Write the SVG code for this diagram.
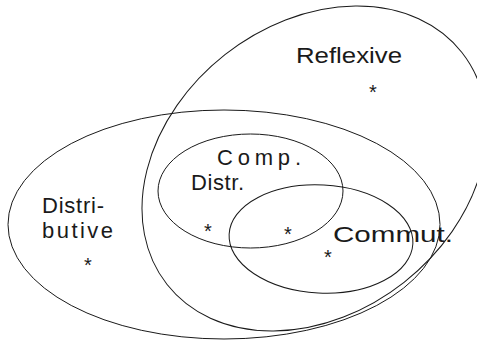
<svg xmlns="http://www.w3.org/2000/svg" width="477" height="340" viewBox="0 0 477 340">
<style>
.set{fill:none;stroke:#1a1a1a;stroke-width:1}
.lbl{font-family:"Liberation Sans",Arial,sans-serif;font-size:22px;fill:#1a1a1a}
.star{font-family:"Liberation Sans",Arial,sans-serif;font-size:20px;fill:#1a1a1a;text-anchor:middle}
</style>
<rect width="477" height="340" fill="#fff"/>
<g id="reflexive">
<ellipse class="set" cx="314.5" cy="168.5" rx="187.6" ry="144.8" transform="rotate(-38.2 314.5 168.5)"/>
<text class="lbl" x="296" y="63" textLength="106" lengthAdjust="spacingAndGlyphs">Reflexive</text>
<text class="star" x="373" y="99">*</text>
</g>
<g id="distributive">
<ellipse class="set" cx="224" cy="224.5" rx="216" ry="114.5"/>
<text class="lbl" x="42" y="213" textLength="62" lengthAdjust="spacing">Distri-</text>
<text class="lbl" x="42" y="238" textLength="71" lengthAdjust="spacing">butive</text>
<text class="star" x="88" y="272">*</text>
</g>
<g id="comp-distr">
<ellipse class="set" cx="250.5" cy="191" rx="92.5" ry="57"/>
<text class="lbl" x="217" y="165" textLength="84" lengthAdjust="spacing">Comp.</text>
<text class="lbl" x="191" y="190" textLength="53" lengthAdjust="spacing">Distr.</text>
<text class="star" x="208" y="238">*</text>
</g>
<g id="commut">
<ellipse class="set" cx="321" cy="239" rx="92" ry="54" transform="rotate(3 321 239)"/>
<text class="lbl" x="333" y="242" textLength="120" lengthAdjust="spacingAndGlyphs">Commut.</text>
<text class="star" x="288" y="241">*</text>
<text class="star" x="328" y="264">*</text>
</g>
</svg>
